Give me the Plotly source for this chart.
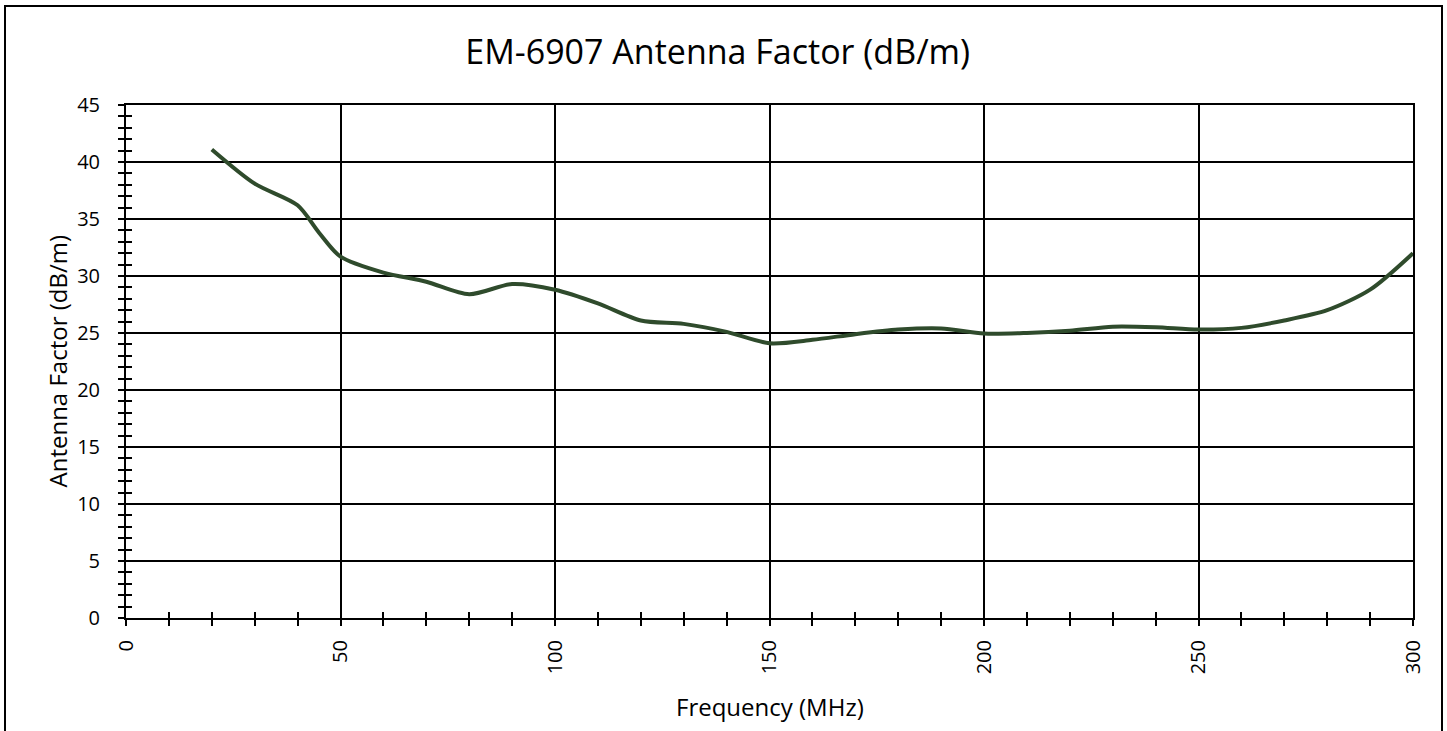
import plotly.graph_objects as go

freq_mhz = [20, 30, 40, 45, 50, 60, 70, 80, 90, 100, 110, 120, 130, 140, 150,
            160, 170, 180, 190, 200, 210, 220, 230, 240, 250, 260, 270, 280, 290, 300]
antenna_factor = [41.1, 38.1, 36.2, 33.8, 31.7, 30.3, 29.5, 28.4, 29.3, 28.8, 27.6, 26.1, 25.8, 25.1, 24.1,
                  24.4, 24.9, 25.3, 25.4, 24.95, 25.0, 25.2, 25.55, 25.5, 25.3, 25.45, 26.1, 27.0, 28.8, 32.0]

x_major_ticks = [0, 50, 100, 150, 200, 250, 300]
y_major_ticks = [0, 5, 10, 15, 20, 25, 30, 35, 40, 45]

FONT = "Open Sans"
LINE_COLOR = "#2F4B2C"

fig = go.Figure()
fig.add_trace(go.Scatter(x=freq_mhz, y=antenna_factor, mode="lines",
                         line=dict(color=LINE_COLOR, width=4, shape="spline", smoothing=0.8),
                         showlegend=False, hoverinfo="x+y"))
# same data on overlay axes (invisible) so the inner half of crossing ticks is drawn
fig.add_trace(go.Scatter(x=freq_mhz, y=antenna_factor, mode="lines", xaxis="x2", yaxis="y2",
                         line=dict(color="rgba(0,0,0,0)", width=0),
                         showlegend=False, hoverinfo="skip"))

axis_common = dict(showline=True, linecolor="black", linewidth=2, mirror=True,
                   showgrid=True, gridcolor="black", gridwidth=1.5, zeroline=False,
                   ticks="outside", ticklen=6, tickwidth=2, tickcolor="black",
                   tickfont=dict(family=FONT, size=20, color="black"))

fig.update_layout(
    width=1447, height=731,
    margin=dict(l=126, r=34, t=105, b=113),
    paper_bgcolor="white", plot_bgcolor="white",
    font=dict(family=FONT, color="black"),
    title=dict(text="EM-6907 Antenna Factor (dB/m)", x=0.496, xanchor="center",
               y=1 - 52 / 731, yanchor="middle", yref="container",
               font=dict(family=FONT, size=34, color="black")),
    xaxis=dict(range=[0, 300], tickvals=x_major_ticks, tickangle=-90,
               ticklabelstandoff=6,
               minor=dict(dtick=10, ticks="outside", ticklen=6, tickwidth=2, tickcolor="black",
                          showgrid=False),
               **axis_common),
    yaxis=dict(range=[0, 45], tickvals=y_major_ticks, ticklabelstandoff=14,
               minor=dict(dtick=1, ticks="outside", ticklen=6, tickwidth=2, tickcolor="black",
                          showgrid=False),
               **axis_common),
    xaxis2=dict(range=[0, 300], overlaying="x", anchor="y2", side="bottom",
                showgrid=False, showline=False, zeroline=False, showticklabels=False,
                ticks="inside", dtick=10, tick0=0, ticklen=6, tickwidth=2, tickcolor="black"),
    yaxis2=dict(range=[0, 45], overlaying="y", anchor="x2", side="left",
                showgrid=False, showline=False, zeroline=False, showticklabels=False,
                ticks="inside", dtick=1, tick0=0, ticklen=6, tickwidth=2, tickcolor="black"),
    annotations=[
        dict(text="Frequency (MHz)", xref="paper", yref="paper", x=0.5, y=0,
             xanchor="center", yanchor="middle", yshift=-88, showarrow=False,
             font=dict(family=FONT, size=24, color="black")),
        dict(text="Antenna Factor (dB/m)", xref="paper", yref="paper", x=0, y=0.5,
             xanchor="center", yanchor="middle", xshift=-69, textangle=-90, showarrow=False,
             font=dict(family=FONT, size=24, color="black")),
    ],
    shapes=[dict(type="rect", xref="paper", yref="paper",
                 x0=(5 - 126) / 1287, x1=(1442 - 126) / 1287,
                 y0=-0.3, y1=(618 - 6) / 513,
                 line=dict(color="black", width=2), fillcolor="rgba(0,0,0,0)", layer="below")],
)

fig.write_html("out.html", config={"displayModeBar": False},
               post_script="document.body.style.margin='0';")
